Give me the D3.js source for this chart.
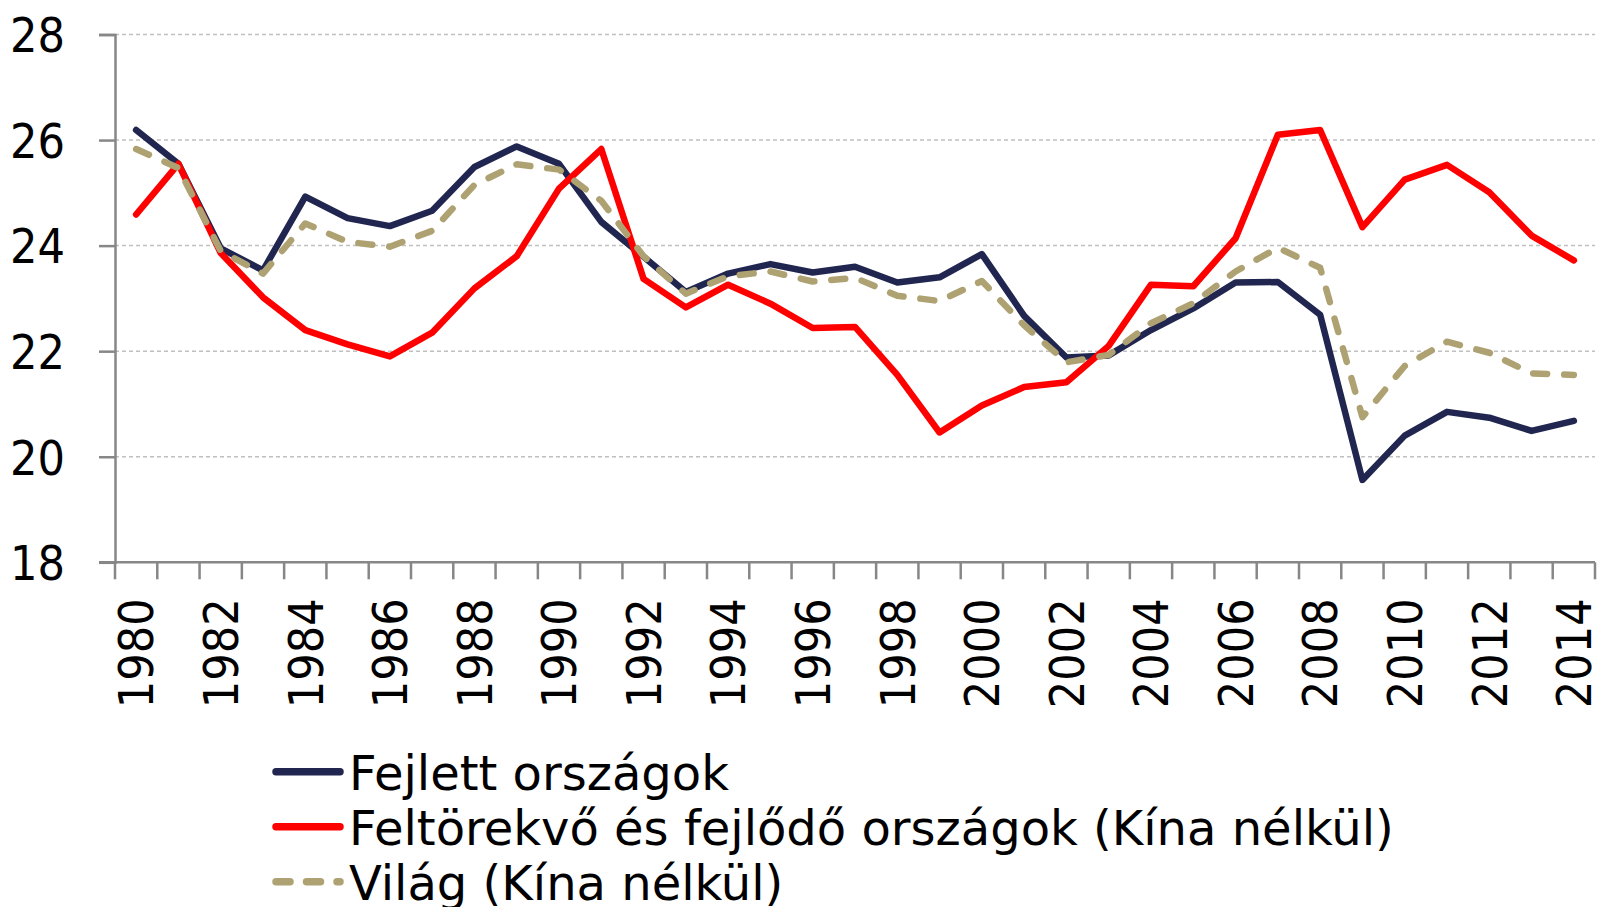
<!DOCTYPE html>
<html>
<head>
<meta charset="utf-8">
<script src="https://cdn.jsdelivr.net/npm/d3@7"></script>
<style>
  html, body { margin: 0; padding: 0; background: #fff; }
  svg { display: block; }
  .lbl { font-family: "DejaVu Sans Condensed", "DejaVu Sans", sans-serif; font-stretch: condensed; fill: #000; }
  .leg { font-family: "DejaVu Sans", sans-serif; fill: #000; }
</style>
</head>
<body>
<div id="chart"></div>
<script>

const years = d3.range(1980, 2015)

const fejlett = [26.19, 25.55, 23.95, 23.53, 24.93, 24.52, 24.37, 24.66, 25.49, 25.88,
	25.55, 24.45, 23.79, 23.12, 23.47, 23.65, 23.49, 23.60, 23.30, 23.40,
	23.84, 22.67, 21.88, 21.92, 22.40, 22.81, 23.30, 23.31, 22.69, 19.56,
	20.40, 20.85, 20.74, 20.49, 20.68]

const feltorekvo = [24.59, 25.55, 23.86, 23.02, 22.40, 22.13, 21.90, 22.35, 23.19, 23.80,
	25.08, 25.83, 23.37, 22.83, 23.26, 22.90, 22.44, 22.46, 21.55, 20.46,
	20.97, 21.32, 21.41, 22.10, 23.26, 23.23, 24.14, 26.10, 26.19, 24.35,
	25.25, 25.53, 25.01, 24.19, 23.72]

const vilag = [25.83, 25.47, 23.90, 23.47, 24.42, 24.07, 23.98, 24.28, 25.15, 25.54,
	25.44, 24.85, 23.80, 23.09, 23.42, 23.51, 23.32, 23.39, 23.05, 22.95,
	23.33, 22.49, 21.79, 21.93, 22.53, 22.91, 23.51, 23.96, 23.58, 20.75,
	21.72, 22.18, 21.97, 21.58, 21.55]

const yTicks = [18, 20, 22, 24, 26, 28]
const xLabels = years.filter(function(d) { return d % 2 === 0 })

const seriesNames = ["Fejlett országok", "Feltörekvő és fejlődő országok (Kína nélkül)", "Világ (Kína nélkül)"]

const series = [
	{ name: seriesNames[0], values: fejlett, color: "#20264f", dash: null },
	{ name: seriesNames[1], values: feltorekvo, color: "#ff0000", dash: null },
	{ name: seriesNames[2], values: vilag, color: "#aea273", dash: "14,17" }
]

const width = 1600
const height = 907
const plotLeft = 115, plotRight = 1595, plotTop = 34.5, plotBottom = 562.3

const svg = d3.select("#chart").append("svg")
	.attr("width", width)
	.attr("height", height)
	.attr("viewBox", "0 0 " + width + " " + height)

const x = d3.scaleBand()
	.domain(years)
	.range([plotLeft, plotRight])
	.padding(0)

const y = d3.scaleLinear()
	.domain([18, 28])
	.range([plotBottom, plotTop])

// gridlines
svg.append("g")
	.selectAll("line")
	.data(yTicks.filter(function(d) { return d > 18 }))
	.enter()
		.append("line")
			.attr("x1", plotLeft)
			.attr("x2", plotRight)
			.attr("y1", function(d) { return y(d) })
			.attr("y2", function(d) { return y(d) })
			.attr("stroke", "#c0c0c0")
			.attr("stroke-width", 1.5)
			.attr("stroke-dasharray", "4,3")

// y axis
const yAxis = svg.append("g")
	.attr("transform", "translate(" + plotLeft + ",0)")
	.call(d3.axisLeft(y).tickValues(yTicks).tickSize(16).tickPadding(34).tickFormat(d3.format("d")))
yAxis.select(".domain").attr("stroke", "#878787").attr("stroke-width", 2.5)
yAxis.selectAll(".tick line").attr("stroke", "#878787").attr("stroke-width", 2.5)
yAxis.selectAll(".tick text")
	.attr("class", "lbl")
	.style("font-size", "48px")
	.attr("dy", "0.36em")

// x axis line and category ticks
svg.append("line")
	.attr("x1", plotLeft - 16)
	.attr("x2", plotRight)
	.attr("y1", plotBottom)
	.attr("y2", plotBottom)
	.attr("stroke", "#878787")
	.attr("stroke-width", 2.5)

svg.append("g")
	.selectAll("line")
	.data(years.concat([null]))
	.enter()
		.append("line")
			.attr("x1", function(d) { return d === null ? plotRight : x(d) })
			.attr("x2", function(d) { return d === null ? plotRight : x(d) })
			.attr("y1", plotBottom)
			.attr("y2", plotBottom + 17)
			.attr("stroke", "#878787")
			.attr("stroke-width", 2.5)

svg.append("g")
	.selectAll("text")
	.data(xLabels)
	.enter()
		.append("text")
			.attr("class", "lbl")
			.style("font-size", "48px")
			.attr("text-anchor", "end")
			.attr("dy", "0.36em")
			.attr("transform", function(d) {
				return "translate(" + (x(d) + x.bandwidth() / 2) + "," + (plotBottom + 36) + ") rotate(-90)"
			})
			.text(function(d) { return d })

// lines
const line = d3.line()
	.x(function(d, i) { return x(years[i]) + x.bandwidth() / 2 })
	.y(function(d) { return y(d) })

svg.append("g")
	.selectAll("path")
	.data(series)
	.enter()
		.append("path")
			.attr("d", function(d) { return line(d.values) })
			.attr("fill", "none")
			.attr("stroke", function(d) { return d.color })
			.attr("stroke-width", 6.5)
			.attr("stroke-linejoin", "round")
			.attr("stroke-linecap", "round")
			.attr("stroke-dasharray", function(d) { return d.dash })

// legend
const legend = svg.append("g")
	.selectAll("g")
	.data(series)
	.enter()
		.append("g")
			.attr("transform", function(d, i) { return "translate(0," + (771.7 + i * 55) + ")" })

legend.append("line")
	.attr("x1", 276)
	.attr("x2", 340)
	.attr("stroke", function(d) { return d.color })
	.attr("stroke-width", 7.5)
	.attr("stroke-linecap", "round")
	.attr("stroke-dasharray", function(d) { return d.dash ? "14,16.5" : null })

legend.append("text")
	.attr("class", "leg")
	.attr("x", 349)
	.attr("y", 18)
	.style("font-size", "48px")
	.text(function(d) { return d.name })

</script>
</body>
</html>
